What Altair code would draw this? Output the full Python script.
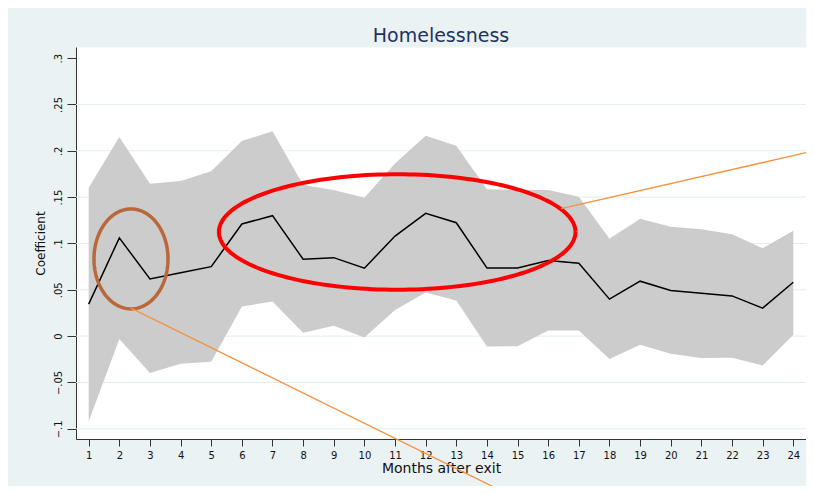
import altair as alt
import numpy as np
import pandas as pd

# ---- data ----
months = list(range(1, 25))
coef = [0.0345, 0.106, 0.0617, 0.0685, 0.075, 0.121, 0.130, 0.083, 0.0847, 0.0733,
        0.108, 0.1325, 0.1224, 0.0736, 0.0736, 0.0815, 0.0787, 0.0399, 0.0593, 0.0492,
        0.0463, 0.0434, 0.0302, 0.0582]
upper = [0.160, 0.215, 0.1644, 0.1673, 0.1778, 0.2105, 0.2212, 0.163, 0.1577, 0.1494,
         0.1864, 0.2162, 0.2054, 0.1584, 0.1577, 0.1577, 0.1504, 0.1052, 0.1267, 0.1181,
         0.1153, 0.1099, 0.0948, 0.1138]
lower = [-0.092, -0.0032, -0.0399, -0.0298, -0.0277, 0.0319, 0.0373, 0.0036, 0.0111, -0.0015,
         0.0283, 0.047, 0.0384, -0.0112, -0.0108, 0.006, 0.006, -0.0248, -0.0094, -0.019,
         -0.0237, -0.0234, -0.0317, 0.0014]

y_ticks = [-0.1, -0.05, 0, 0.05, 0.1, 0.15, 0.2, 0.25, 0.3]
grid_vals = [-0.1, -0.05, 0, 0.05, 0.1, 0.15, 0.2, 0.25]

# annotation ellipses (center month, center value, radius in months, radius in value)
ell_names = ["brown", "red"]
ell_cx = [2.381, 11.07]
ell_cy = [0.0833, 0.1124]
ell_rx = [1.208, 5.82]
ell_ry = [0.0539, 0.0623]
ell_colors = ["#B8683A", "#FF0000"]
ell_widths = [3.5, 4]

# annotation pointer lines (start/end month, start/end value)
ptr_names = ["p1", "p2"]
ptr_x0 = [16.42, 2.381]
ptr_y0 = [0.1375, 0.0302]
ptr_x1 = [24.68, 14.66]
ptr_y1 = [0.200, -0.170]

BG = "#EAF2F3"
FONT = "DejaVu Sans"

df = pd.DataFrame({"month": months, "coef": coef, "upper": upper, "lower": lower})
grid_df = pd.DataFrame({"g": grid_vals})

ell_rows = []
t = np.linspace(0, 2 * np.pi, 181)
for n, cx, cy, rx, ry in zip(ell_names, ell_cx, ell_cy, ell_rx, ell_ry):
    for i, tt in enumerate(t):
        ell_rows.append({"name": n, "i": i, "x": cx + rx * np.cos(tt), "y": cy + ry * np.sin(tt)})
ell_df = pd.DataFrame(ell_rows)

ptr_rows = []
for n, a, b, c, d in zip(ptr_names, ptr_x0, ptr_y0, ptr_x1, ptr_y1):
    ptr_rows.append({"name": n, "i": 0, "x": a, "y": b})
    ptr_rows.append({"name": n, "i": 1, "x": c, "y": d})
ptr_df = pd.DataFrame(ptr_rows)

xscale = alt.Scale(domain=[0.586, 24.415], nice=False, zero=False)
yscale = alt.Scale(domain=[-0.111, 0.312], nice=False, zero=False)

xaxis = alt.Axis(values=months, title="Months after exit", grid=False, tickSize=7,
                 tickColor="#333333", domainColor="#333333", labelFont=FONT, labelFontSize=10,
                 labelColor="#111111", titleFont=FONT, titleFontSize=14, titleFontWeight="normal",
                 titleColor="#111111", labelPadding=4, titlePadding=1, labelFlush=False,
                 labelOverlap=False, labelBound=False)
yaxis = alt.Axis(values=y_ticks, title="Coefficient", grid=False, tickSize=9,
                 tickColor="#333333", domainColor="#333333", labelFont=FONT, labelFontSize=10,
                 labelColor="#111111", labelAngle=270, labelAlign="center", labelBaseline="bottom",
                 labelPadding=4, labelExpr="replace(format(datum.value, '.2~f'), '0.', '.')",
                 titleFont=FONT, titleFontSize=12, titleFontWeight="normal", titleColor="#111111",
                 titlePadding=6, labelFlush=False, labelOverlap=False)

grid = alt.Chart(grid_df).mark_rule(color="#E3EDF0", strokeWidth=1).encode(
    y=alt.Y("g:Q", scale=yscale, axis=yaxis))

band = alt.Chart(df).mark_area(color="#CCCCCC", opacity=1).encode(
    x=alt.X("month:Q", scale=xscale, axis=xaxis),
    y=alt.Y("lower:Q", scale=yscale, axis=yaxis),
    y2="upper:Q")

line = alt.Chart(df).mark_line(color="black", strokeWidth=1.5).encode(
    x=alt.X("month:Q", scale=xscale, axis=xaxis),
    y=alt.Y("coef:Q", scale=yscale, axis=yaxis))

ells = alt.Chart(ell_df).mark_line(clip=False).encode(
    x=alt.X("x:Q", scale=xscale, axis=xaxis),
    y=alt.Y("y:Q", scale=yscale, axis=yaxis),
    order="i:Q",
    color=alt.Color("name:N", scale=alt.Scale(domain=ell_names, range=ell_colors), legend=None),
    strokeWidth=alt.StrokeWidth("name:N", scale=alt.Scale(domain=ell_names, range=ell_widths), legend=None),
    detail="name:N")

ptrs = alt.Chart(ptr_df).mark_line(clip=False, color="#F59240", strokeWidth=1.3).encode(
    x=alt.X("x:Q", scale=xscale, axis=xaxis),
    y=alt.Y("y:Q", scale=yscale, axis=yaxis),
    order="i:Q",
    detail="name:N")

chart = alt.layer(grid, band, line, ells, ptrs).properties(
    width=730, height=392,
    title=alt.TitleParams("Homelessness", font=FONT, fontSize=19, fontWeight="normal",
                          color="#1F3262", anchor="middle", offset=1),
    autosize=alt.AutoSizeParams(type="none"),
    padding={"left": 68, "top": 39, "right": 0, "bottom": 47},
    background=BG,
).configure_view(fill="white", stroke="transparent").configure_axis(labelOverlap=False)

chart.save("out.html", embed_options={"renderer": "svg", "actions": False})
